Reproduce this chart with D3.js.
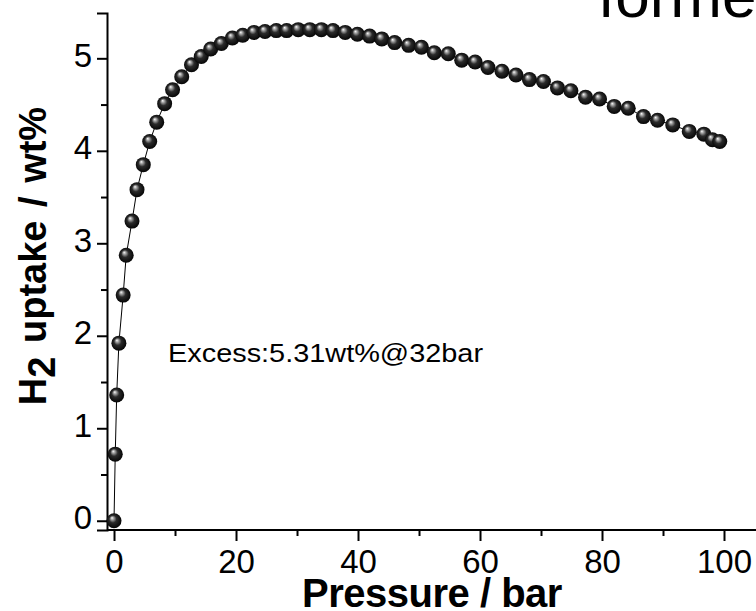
<!DOCTYPE html>
<html>
<head>
<meta charset="utf-8">
<script src="https://cdn.jsdelivr.net/npm/d3@7"></script>
<style>
  body { margin: 0; background: #fff; }
  svg { display: block; font-family: "Liberation Sans", Arial, sans-serif; }
</style>
</head>
<body>
<div id="chart"></div>
<script>
// H2 uptake isotherm, excess

var pressure = [0, 0.2, 0.44, 0.8, 1.5, 2.0, 2.95, 3.77, 4.8, 5.85,
    7.0, 8.3, 9.6, 11.1, 12.7, 14.3, 15.85, 17.6, 19.4, 21.1,
    22.95, 24.75, 26.6, 28.3, 30.2, 32.1, 34.0, 35.9, 37.9, 39.9,
    41.9, 43.9, 46.0, 48.3, 50.4, 52.5, 54.8, 57.0, 59.2, 61.3,
    63.6, 65.9, 68.1, 70.4, 72.7, 74.9, 77.3, 79.6, 82.0, 84.3,
    86.8, 89.1, 91.6, 94.3, 96.7, 98.1, 99.3];
var uptake = [0, 0.72, 1.36, 1.92, 2.44, 2.87, 3.24, 3.58, 3.85, 4.10,
    4.31, 4.51, 4.66, 4.80, 4.93, 5.02, 5.10, 5.16, 5.22, 5.25,
    5.28, 5.29, 5.30, 5.30, 5.31, 5.31, 5.31, 5.30, 5.28, 5.26,
    5.24, 5.21, 5.17, 5.14, 5.12, 5.06, 5.05, 4.98, 4.96, 4.90,
    4.86, 4.82, 4.77, 4.75, 4.68, 4.65, 4.58, 4.56, 4.48, 4.46,
    4.37, 4.33, 4.28, 4.21, 4.18, 4.12, 4.10];

var xTicks = [0, 20, 40, 60, 80, 100],
    xMinor = [10, 30, 50, 70, 90],
    yTicks = [0, 1, 2, 3, 4, 5],
    yMinor = [0.5, 1.5, 2.5, 3.5, 4.5];

var note = "Excess:5.31wt%@32bar",
    cutTitle = "forme";

var W = 756, H = 611;

var svg = d3.select("#chart").append("svg").attr("width", W).attr("height", H);

var x = d3.scaleLinear().domain([-1.15, 110]).range([107, 785]);
var y = d3.scaleLinear().domain([-0.1, 5.49]).range([530, 13]);

// sphere look for the markers
var grad = svg.append("defs").append("radialGradient")
    .attr("id", "ball")
    .attr("cx", "50%").attr("cy", "50%").attr("r", "55%")
    .attr("fx", "36%").attr("fy", "30%");
grad.append("stop").attr("offset", "0%").attr("stop-color", "#ffffff");
grad.append("stop").attr("offset", "14%").attr("stop-color", "#b5b5b5");
grad.append("stop").attr("offset", "45%").attr("stop-color", "#2b2b2b");
grad.append("stop").attr("offset", "100%").attr("stop-color", "#000");

// axes
var xAxis = svg.append("g").attr("transform", "translate(0,530)")
    .call(d3.axisBottom(x).tickValues(xTicks).tickSize(11).tickPadding(7).tickFormat(d3.format("d")));
svg.append("g").attr("transform", "translate(0,530)")
    .call(d3.axisBottom(x).tickValues(xMinor).tickSize(6).tickFormat(""))
    .select(".domain").remove();

var yAxis = svg.append("g").attr("transform", "translate(107,0)")
    .call(d3.axisLeft(y).tickValues(yTicks).tickSize(10).tickPadding(5).tickFormat(d3.format("d")));
svg.append("g").attr("transform", "translate(107,0)")
    .call(d3.axisLeft(y).tickValues(yMinor).tickSize(6).tickFormat(""))
    .select(".domain").remove();

svg.selectAll(".domain").attr("stroke", "#000").attr("stroke-width", 2);
svg.selectAll(".tick line").attr("stroke", "#000").attr("stroke-width", 2);
svg.selectAll(".tick text")
    .attr("font-family", "Liberation Sans, Arial, sans-serif")
    .attr("font-size", 33)
    .attr("fill", "#000");
xAxis.selectAll(".domain").attr("d", "M107,0H790");
xAxis.selectAll(".tick text").attr("dy", null).attr("y", 43);
yAxis.selectAll(".tick text").attr("dy", "8px");

// connecting line
var pts = d3.zip(pressure, uptake);
svg.append("path")
    .datum(pts)
    .attr("fill", "none")
    .attr("stroke", "#000")
    .attr("stroke-width", 1)
    .attr("d", d3.line().x(function(d) { return x(d[0]); }).y(function(d) { return y(d[1]); }));

svg.selectAll(".pt")
    .data(pts)
    .enter()
    .append("circle")
    .attr("class", "pt")
    .attr("cx", function(d) { return x(d[0]); })
    .attr("cy", function(d) { return y(d[1]); })
    .attr("r", 7.5)
    .attr("fill", "url(#ball)");

// annotation
svg.append("text")
    .attr("x", 168)
    .attr("y", 362)
    .attr("font-size", 25)
    .attr("textLength", 315)
    .attr("lengthAdjust", "spacingAndGlyphs")
    .text(note);

// axis titles
svg.append("text")
    .attr("x", 432)
    .attr("y", 607)
    .attr("text-anchor", "middle")
    .attr("font-size", 40)
    .attr("font-weight", "bold")
    .attr("letter-spacing", -0.5)
    .text("Pressure / bar");

var yt = svg.append("text")
    .attr("transform", "translate(46,256) rotate(-90)")
    .attr("text-anchor", "middle")
    .attr("font-size", 38)
    .attr("font-weight", "bold")
    .attr("word-spacing", 3);
yt.append("tspan").text("H");
yt.append("tspan").attr("dy", 9).text("2");
yt.append("tspan").attr("dy", -9).text(" uptake / wt%");

// title, cut off at the top edge
svg.append("text")
    .attr("x", 598)
    .attr("y", 17)
    .attr("font-size", 62)
    .text(cutTitle);
</script>
</body>
</html>
